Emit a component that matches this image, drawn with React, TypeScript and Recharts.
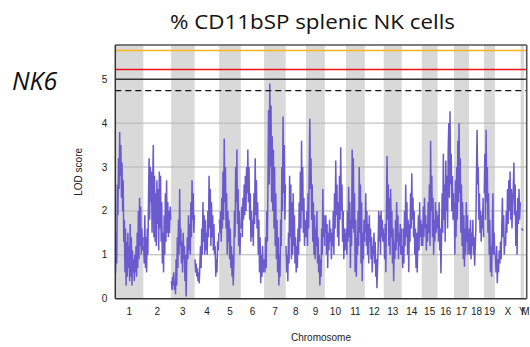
import React from 'react';
import { ComposedChart, Line, XAxis, YAxis, ReferenceArea, ReferenceLine } from 'recharts';

const chromosomes = ['1','2','3','4','5','6','7','8','9','10','11','12','13','14','15','16','17','18','19','X','Y','M'];
const chromLengths = [101, 100, 85, 88, 78, 84, 78, 73, 68, 76, 68, 68, 65, 72, 57, 59, 54, 54, 40, 92, 12, 10];

const chr1Lod = [0.6, 1.5, 0.8, 2.6, 1.9, 3.2, 2.5, 3.8, 2.8, 3.5, 2.3, 3.1, 2.0, 2.7, 1.3, 1.8, 0.6, 1.6, 0.3, 1.3, 0.5, 1.5, 0.7, 1.2, 0.4, 1.7, 0.5, 1.4, 0.3, 1.1, 0.6, 0.9, 0.4, 1.0, 0.6, 1.2, 0.5, 1.5, 0.7, 2.0, 0.9, 2.3, 1.2, 2.1, 1.0, 1.6, 1.1, 1.4];
const chr2Lod = [1.2, 0.8, 1.9, 0.7, 1.4, 0.6, 1.6, 1.0, 2.2, 3.2, 1.8, 3.0, 2.2, 2.9, 1.5, 2.6, 3.5, 1.4, 2.8, 1.3, 2.4, 1.2, 2.7, 1.7, 2.5, 1.1, 2.9, 1.6, 2.8, 1.3, 2.2, 0.8, 1.5, 0.6, 1.9, 1.0, 2.4, 1.3, 2.7, 1.5, 2.2, 1.4, 2.0, 1.5, 2.1, 1.8];
const chr3Lod = [0.4, 0.2, 0.5, 0.3, 0.6, 0.2, 0.4, 0.1, 0.9, 0.3, 1.4, 0.7, 1.8, 1.0, 2.5, 1.2, 1.6, 0.8, 1.3, 0.6, 1.5, 0.9, 1.2, 0.4, 1.0, 0.05, 0.8, 1.4, 0.9, 1.9, 1.1, 1.7, 1.0, 2.2, 1.4, 2.7, 1.8, 2.4, 1.5, 1.9];
const chr4Lod = [0.9, 0.6, 0.8, 0.5, 0.7, 0.4, 0.6, 0.35, 0.8, 1.2, 0.7, 1.6, 1.0, 2.2, 1.3, 1.9, 1.0, 1.8, 1.1, 1.5, 1.0, 2.0, 1.4, 2.8, 1.6, 2.5, 1.2, 2.2, 1.4, 1.9, 1.1, 1.7, 1.0, 1.2, 0.5, 0.9, 0.6, 1.3, 1.1, 1.5];
const chr5Lod = [1.8, 1.5, 2.0, 1.3, 2.3, 1.6, 2.9, 1.8, 3.65, 2.2, 3.0, 1.6, 2.4, 1.0, 2.0, 1.3, 1.8, 0.9, 1.6, 0.7, 1.2, 0.5, 1.0, 0.3, 0.8, 2.0, 1.4, 3.0, 2.2, 3.4, 1.7, 2.5, 1.2, 2.0, 1.0, 1.5];
const chr6Lod = [1.6, 2.1, 1.4, 2.3, 1.8, 2.6, 1.9, 2.8, 2.0, 3.0, 2.4, 3.4, 2.2, 3.0, 1.8, 2.4, 1.3, 2.0, 1.4, 1.8, 1.2, 2.4, 1.7, 3.2, 1.9, 2.7, 1.6, 2.2, 1.0, 1.8, 0.6, 1.4, 0.35, 1.0, 0.5, 1.2, 0.6, 0.9];
const chr7Lod = [0.9, 0.6, 1.4, 0.7, 2.0, 1.3, 2.8, 4.3, 2.6, 4.9, 3.0, 4.4, 2.2, 3.7, 2.0, 3.4, 1.6, 3.0, 1.2, 2.4, 0.9, 1.8, 0.6, 1.4, 0.3, 1.0, 0.5, 1.8, 1.2, 3.0, 2.0, 4.15, 2.4, 3.5, 1.8, 2.6];
const chr8Lod = [1.2, 0.6, 1.0, 0.4, 1.5, 0.8, 2.8, 1.4, 2.6, 0.9, 2.2, 1.0, 2.4, 1.2, 1.9, 0.8, 1.4, 0.6, 1.2, 0.7, 1.6, 1.0, 2.2, 1.3, 2.9, 1.6, 3.6, 2.0, 3.0, 1.5, 2.3, 1.2, 1.8, 1.4];
const chr9Lod = [1.4, 2.0, 1.2, 2.4, 1.6, 3.0, 4.1, 2.5, 3.2, 1.8, 2.6, 1.3, 2.2, 1.0, 1.9, 0.9, 1.6, 1.2, 2.0, 0.8, 1.4, 0.6, 1.0, 0.3, 0.9, 0.5, 1.6, 1.0, 2.5, 1.4, 1.9, 1.2];
const chr10Lod = [1.5, 1.9, 1.0, 1.7, 0.7, 1.5, 1.1, 1.8, 1.3, 1.6, 0.9, 1.5, 1.2, 2.0, 1.0, 2.4, 1.6, 3.15, 1.9, 2.6, 1.4, 2.2, 1.2, 2.8, 1.8, 3.45, 2.0, 2.6, 1.3, 2.0, 0.9, 1.6, 1.1, 1.5];
const chr11Lod = [1.6, 1.0, 2.0, 1.3, 2.55, 1.4, 2.2, 0.7, 1.8, 1.2, 3.4, 1.6, 3.2, 1.5, 2.4, 0.6, 1.8, 0.5, 1.4, 1.0, 2.0, 1.2, 3.0, 1.5, 2.6, 0.8, 2.2, 0.4, 1.5, 0.9, 1.8, 1.3];
const chr12Lod = [1.5, 2.4, 1.2, 2.0, 1.0, 1.7, 0.8, 1.9, 1.3, 1.6, 0.9, 1.4, 0.6, 1.2, 1.0, 1.5, 0.8, 1.3, 0.5, 0.9, 0.24, 0.7, 1.2, 2.0, 1.3, 1.9, 1.0, 2.0, 1.4, 1.8, 1.3, 1.6];
const chr13Lod = [1.5, 0.9, 1.7, 0.6, 2.0, 3.25, 1.8, 2.6, 1.2, 2.3, 1.0, 2.5, 1.4, 2.0, 0.8, 1.6, 0.4, 1.3, 0.9, 1.8, 1.1, 2.2, 1.3, 1.9, 0.9, 1.5, 1.2, 1.7, 1.0, 1.6];
const chr14Lod = [1.2, 0.7, 1.6, 0.8, 2.0, 1.2, 2.6, 1.4, 2.2, 1.0, 1.8, 0.6, 1.7, 1.3, 2.4, 1.6, 2.86, 1.8, 2.3, 1.4, 2.0, 1.0, 1.6, 0.7, 1.5, 0.6, 1.3, 1.9, 1.1, 2.2, 1.4, 1.8, 1.2];
const chr15Lod = [1.7, 1.2, 2.1, 1.4, 2.3, 1.6, 1.9, 1.1, 1.7, 1.3, 2.2, 1.5, 2.6, 1.2, 3.6, 2.0, 2.8, 1.4, 2.3, 1.0, 1.8, 1.3, 2.2, 1.5, 2.0, 1.6];
const chr16Lod = [1.9, 1.3, 2.2, 1.1, 1.6, 0.58, 1.4, 2.4, 1.5, 3.3, 1.8, 2.6, 1.3, 3.15, 2.0, 2.8, 1.6, 3.4, 4.0, 2.3, 4.27, 2.6, 3.3, 2.0, 2.8, 1.8, 2.4];
const chr17Lod = [2.2, 1.0, 2.7, 1.4, 3.0, 1.8, 3.6, 2.2, 4.0, 2.4, 3.2, 1.5, 2.6, 1.2, 2.2, 0.9, 1.9, 0.73, 1.6, 1.0, 2.2, 1.3, 1.9, 1.0, 1.5];
const chr18Lod = [1.6, 1.0, 1.8, 0.9, 1.5, 1.2, 1.8, 1.0, 1.4, 0.75, 1.2, 1.6, 2.8, 3.85, 2.6, 3.0, 1.8, 2.4, 1.5, 2.0, 1.3, 1.9, 1.6, 2.3, 1.4];
const chr19Lod = [2.4, 3.3, 1.8, 3.85, 2.2, 3.0, 1.5, 2.4, 1.0, 1.8, 0.6, 1.2, 0.5, 1.6, 2.4, 1.0, 1.5, 1.0];
const chrXLod = [1.0, 0.6, 1.2, 0.35, 0.9, 0.6, 1.1, 0.8, 1.3, 0.9, 1.6, 2.3, 1.4, 1.9, 1.0, 1.4, 1.2, 2.0, 1.5, 2.5, 1.7, 2.7, 2.0, 2.9, 1.8, 2.5, 1.6, 2.2, 2.5, 3.1, 1.9, 2.6, 1.2, 2.0, 1.0, 2.3, 1.7, 2.5, 1.8, 2.2];
const chrYLod = [1.6, 1.55];
const chrMLod: number[] = [];

const lodSeries = [chr1Lod, chr2Lod, chr3Lod, chr4Lod, chr5Lod, chr6Lod, chr7Lod, chr8Lod, chr9Lod, chr10Lod, chr11Lod, chr12Lod, chr13Lod, chr14Lod, chr15Lod, chr16Lod, chr17Lod, chr18Lod, chr19Lod, chrXLod, chrYLod, chrMLod];

const yTicks = [0, 1, 2, 3, 4, 5];
const gridValues = [1, 2, 3, 4];
const thresholdValues = [5.655, 5.22, 5.0, 4.74];
const yMax = 5.78;

const starts: number[] = [];
let acc = 0;
chromLengths.forEach((len) => { starts.push(acc); acc += len; });
const total = acc;
const mids = chromLengths.map((len, i) => starts[i] + len / 2);

const data: { pos: number; lod: number | null }[] = [];
lodSeries.forEach((vals, i) => {
  const len = chromLengths[i];
  vals.forEach((v, j) => {
    data.push({ pos: starts[i] + (len * (j + 0.5)) / vals.length, lod: v });
  });
  data.push({ pos: starts[i] + len, lod: null });
});

const tickLabel = (v: number) => {
  const idx = mids.findIndex((m) => Math.abs(m - v) < 1e-6);
  return idx >= 0 ? chromosomes[idx] : '';
};

const font = '"Liberation Sans", Arial, sans-serif';

export default function App() {
  return (
    <div style={{ position: 'absolute', left: 0, top: 0, width: 530, height: 347, background: '#fff' }}>
      <ComposedChart width={530} height={347} data={data} margin={{ top: 45, right: 3.3, left: 0, bottom: 0 }}>
        {chromLengths.map((len, i) =>
          i % 2 === 0 ? (
            <ReferenceArea key={'b' + i} x1={starts[i]} x2={starts[i] + len} y1={0} y2={yMax} fill="#d9d9d9" fillOpacity={1} stroke="none" />
          ) : null
        )}
        {gridValues.map((g) => (
          <ReferenceLine key={'g' + g} y={g} stroke="#b4b4b4" strokeWidth={1} />
        ))}
        <XAxis
          dataKey="pos"
          type="number"
          domain={[0, total]}
          ticks={mids}
          interval={0}
          tickFormatter={tickLabel}
          tickLine={false}
          axisLine={{ stroke: '#333', strokeWidth: 1.5 }}
          height={48.3}
          tick={{ fontSize: 10, fill: '#222', fontFamily: font }}
          tickMargin={3}
          allowDataOverflow
          label={{ value: 'Chromosome', position: 'insideBottom', offset: 6, style: { fontSize: 10, fill: '#222', fontFamily: font } }}
        />
        <YAxis
          type="number"
          domain={[0, yMax]}
          ticks={yTicks}
          interval={0}
          tickLine={false}
          axisLine={{ stroke: '#333', strokeWidth: 1.5 }}
          width={115.3}
          tick={{ fontSize: 10, fill: '#222', fontFamily: font }}
          allowDataOverflow
          label={{ value: 'LOD score', angle: -90, position: 'insideLeft', offset: 78, style: { textAnchor: 'middle', fontSize: 10, fill: '#222', fontFamily: font } }}
        />
        <Line
          dataKey="lod"
          type="linear"
          stroke="#6a5acd"
          strokeWidth={1.5}
          dot={false}
          activeDot={false}
          connectNulls={false}
          isAnimationActive={false}
        />
        <ReferenceLine y={thresholdValues[0]} stroke="#ffb41e" strokeWidth={1.6} />
        <ReferenceLine y={thresholdValues[1]} stroke="#ee1111" strokeWidth={1.5} />
        <ReferenceLine y={thresholdValues[2]} stroke="#333" strokeWidth={1.6} />
        <ReferenceLine y={thresholdValues[3]} stroke="#111" strokeWidth={1.3} strokeDasharray="6 4" />
        <ReferenceLine y={yMax} stroke="#555" strokeWidth={1.6} />
        <ReferenceLine x={total} stroke="#555" strokeWidth={1.6} />
      </ComposedChart>
      <svg width={530} height={347} style={{ position: 'absolute', left: 0, top: 0, pointerEvents: 'none' }}>
        <text x={312.5} y={29} textAnchor="middle" fontFamily='"Open Sans", sans-serif' fontSize={20} fill="#111" textLength={285} lengthAdjust="spacingAndGlyphs">
          %  CD11bSP splenic NK cells
        </text>
        <text x={12} y={90} fontFamily='"Open Sans", sans-serif' fontStyle="italic" fontSize={25} fill="#111">
          NK6
        </text>
      </svg>
    </div>
  );
}
